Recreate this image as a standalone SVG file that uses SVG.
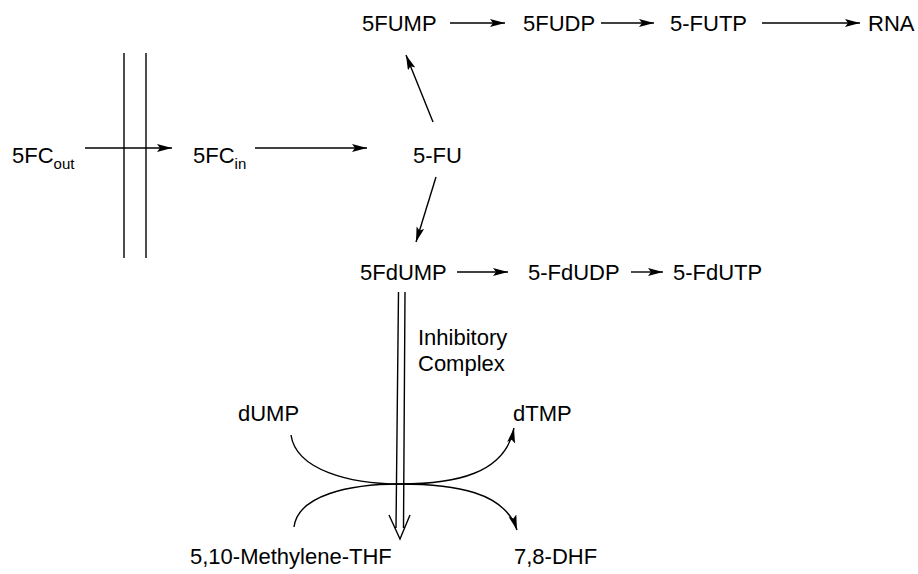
<svg xmlns="http://www.w3.org/2000/svg" width="918" height="574" viewBox="0 0 918 574">
<defs>
<marker id="ah" markerUnits="userSpaceOnUse" markerWidth="16" markerHeight="10" refX="15" refY="4" orient="auto">
<path d="M0,0 L15,4 L0,8 L3,4 z" fill="#000"/>
</marker>
<style>
text{font-family:"Liberation Sans",Arial,sans-serif;font-size:22px;fill:#000}
.sub{font-size:15px}
.c{fill:none;stroke:#000;stroke-width:1.4}
.a{marker-end:url(#ah)}
</style>
</defs>
<rect width="918" height="574" fill="#fff"/>
<g id="membrane">
<line class="c" x1="124" y1="53" x2="124" y2="258"/>
<line class="c" x1="146" y1="53" x2="146" y2="258"/>
</g>
<g id="n-5FCout"><text x="12" y="163">5FC<tspan class="sub" dy="6">out</tspan></text></g>
<g id="n-5FCin"><text x="193" y="163">5FC<tspan class="sub" dy="6">in</tspan></text></g>
<g id="n-5FU"><text x="413" y="163">5-FU</text></g>
<g id="n-5FUMP"><text x="362" y="31">5FUMP</text></g>
<g id="n-5FUDP"><text x="523" y="31">5FUDP</text></g>
<g id="n-5FUTP"><text x="670" y="31">5-FUTP</text></g>
<g id="n-RNA"><text x="868" y="31">RNA</text></g>
<g id="n-5FdUMP"><text x="360" y="280">5FdUMP</text></g>
<g id="n-5FdUDP"><text x="528" y="280">5-FdUDP</text></g>
<g id="n-5FdUTP"><text x="673" y="280">5-FdUTP</text></g>
<g id="n-complex"><text x="418" y="345">Inhibitory</text><text x="418" y="371">Complex</text></g>
<g id="n-dUMP"><text x="238" y="421">dUMP</text></g>
<g id="n-dTMP"><text x="513" y="421">dTMP</text></g>
<g id="n-MTHF"><text x="190" y="564">5,10-Methylene-THF</text></g>
<g id="n-DHF"><text x="514" y="564">7,8-DHF</text></g>
<g id="connectors">
<line class="c a" x1="85" y1="148" x2="172" y2="148"/>
<line class="c a" x1="255" y1="148" x2="367" y2="148"/>
<line class="c a" x1="433" y1="122" x2="406" y2="55"/>
<line class="c a" x1="436" y1="177" x2="416" y2="242"/>
<line class="c a" x1="450" y1="23" x2="505" y2="23"/>
<line class="c a" x1="601" y1="23" x2="654" y2="23"/>
<line class="c a" x1="762" y1="23" x2="860" y2="23"/>
<line class="c a" x1="457" y1="272" x2="508" y2="272"/>
<line class="c a" x1="631" y1="272" x2="663" y2="272"/>
<path class="c" d="M398.5,292 L396,528 M405,292 L403.5,528 M389,515 L400,539 L410,515"/>
<path class="c a" d="M291,435 C296,470 350,484 400,484 C455,484 505,474 514,428"/>
<path class="c a" d="M294,527 C298,495 350,484 400,484 C455,484 505,492 517,530"/>
</g>
</svg>
